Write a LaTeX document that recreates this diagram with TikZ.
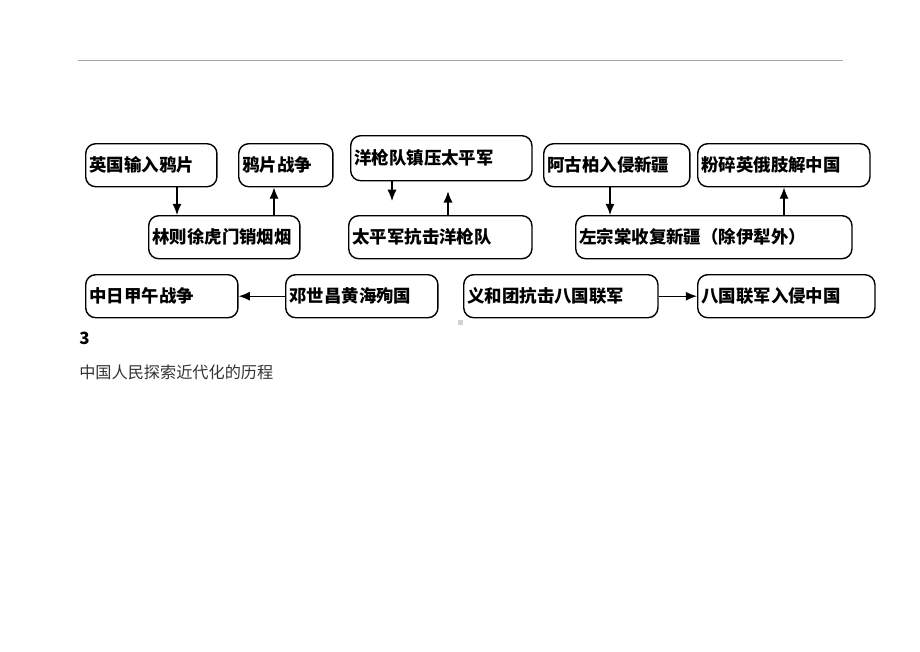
\documentclass[tikz,border=0pt]{standalone}
\usepackage{fontspec}
\newfontfamily\cjk{Noto Sans CJK SC}
\usetikzlibrary{arrows.meta}
\tikzset{
  evt/.style={draw, line width=1pt, rounded corners=0.25cm, anchor=north west,
    minimum height=1.075cm, inner xsep=0.09cm, text width=#1, align=left,
    font=\cjk\bfseries\fontsize{12.4pt}{14pt}\selectfont},
  flow/.style={-{Latex[length=8pt,width=6.5pt]}, line width=0.9pt}
}
\begin{document}
\begin{tikzpicture}[x=0.025cm, y=-0.025cm]
    \useasboundingbox (0,0) rectangle (920,651);

    % TOP RULE
    \draw[gray!70, line width=0.6pt] (78,60) -- (843,60);

    % OPIUM WAR
    \node[evt=3.1cm] (import) at (85,143) {英国输入鸦片};
    \node[evt=2.175cm] (war) at (238,143) {鸦片战争};
    \node[evt=3.6cm] (burn) at (148,215) {林则徐虎门销烟烟};
    \draw[flow] (import.south -| 177,0) -- (burn.north -| 177,0);
    \draw[flow] (burn.north -| 274,0) -- (war.south -| 274,0);

    % TAIPING
    \node[evt=4.35cm, minimum height=1.125cm] (army) at (350,135) {洋枪队镇压太平军};
    \node[evt=4.4cm] (taiping) at (348,215) {太平军抗击洋枪队};
    \draw[flow, shorten >=10] (army.south -| 392,0) -- (taiping.north -| 392,0);
    \draw[flow, shorten >=7] (taiping.north -| 448,0) -- (army.south -| 448,0);

    % XINJIANG
    \node[evt=3.475cm] (yakub) at (543,143) {阿古柏入侵新疆};
    \node[evt=4.125cm] (smash) at (697,143) {粉碎英俄肢解中国};
    \node[evt=6.725cm] (zuo) at (575,215) {左宗棠收复新疆（除伊犁外）};
    \draw[flow] (yakub.south -| 610,0) -- (zuo.north -| 610,0);
    \draw[flow] (zuo.north -| 784,0) -- (smash.south -| 784,0);

    % SINO-JAPANESE WAR
    \node[evt=3.625cm] (jiawu) at (85,274) {中日甲午战争};
    \node[evt=3.625cm] (deng) at (285,274) {邓世昌黄海殉国};
    \draw[flow] (deng.west) -- (jiawu.east);

    % BOXERS
    \node[evt=4.675cm] (boxer) at (463,274) {义和团抗击八国联军};
    \node[evt=4.25cm] (allied) at (697,274) {八国联军入侵中国};
    \draw[flow] (boxer.east) -- (allied.west);

    % SPECK
    \fill[gray!35] (458,320) rectangle (463,325);

    % BELOW
    \node[anchor=west, font=\cjk\bfseries\fontsize{12pt}{14pt}\selectfont, inner sep=0pt] (num) at (79,338) {3};
    \node[anchor=west, font=\cjk\fontsize{11.5pt}{13pt}\selectfont, text=black!80, inner sep=0pt] (title) at (79,372) {中国人民探索近代化的历程};
\end{tikzpicture}
\end{document}
